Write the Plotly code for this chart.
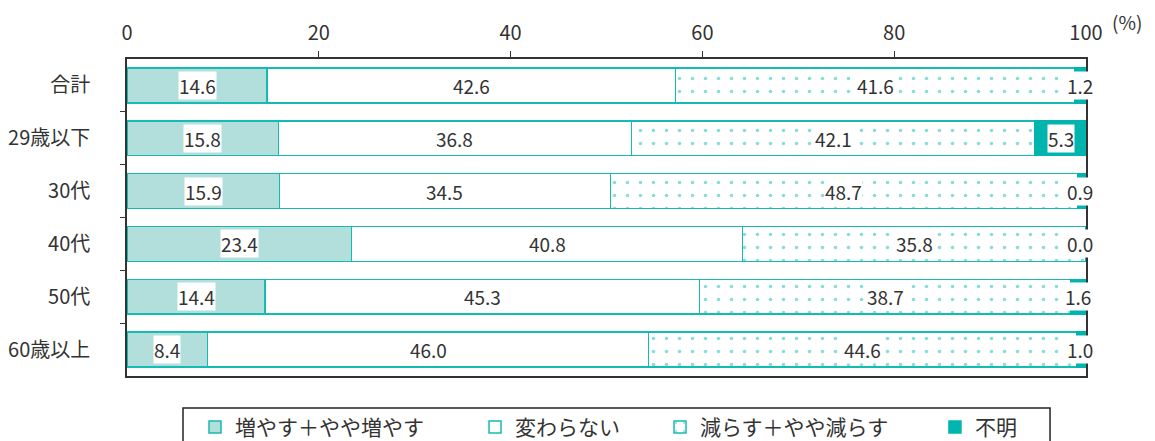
import plotly.graph_objects as go

categories = ["合計", "29歳以下", "30代", "40代", "50代", "60歳以上"]
series_names = ["増やす＋やや増やす", "変わらない", "減らす＋やや減らす", "不明"]
increase = [14.6, 15.8, 15.9, 23.4, 14.4, 8.4]
unchanged = [42.6, 36.8, 34.5, 40.8, 45.3, 46.0]
decrease = [41.6, 42.1, 48.7, 35.8, 38.7, 44.6]
unknown = [1.2, 5.3, 0.9, 0.0, 1.6, 1.0]
x_ticks = [0, 20, 40, 60, 80, 100]

TEAL = "#14bbb2"
LIGHT = "#b2dfdc"
SOLID = "#00b5ad"
TXT = "#333333"
FONT = "Noto Sans CJK JP"

series = [increase, unchanged, decrease, unknown]
ypos = list(range(len(categories)))

fig = go.Figure()
styles = [
    dict(color=LIGHT, line=dict(color=TEAL, width=1.5)),
    dict(color="white", line=dict(color=TEAL, width=1.5)),
    dict(color="white", line=dict(color=TEAL, width=1.5),
         pattern=dict(shape=".", fgcolor=TEAL, bgcolor="white", size=13, solidity=0.06)),
    dict(color=SOLID, line=dict(color=SOLID, width=1.5)),
]
legend_ids = ["legend", "legend2", "legend3", "legend4"]
for name, vals, st, lg in zip(series_names, series, styles, legend_ids):
    fig.add_trace(go.Bar(
        y=ypos, x=vals, name=name, orientation="h", width=0.66,
        marker=st, hoverinfo="skip", legend=lg,
    ))

# value labels with white background
annotations = []
for i in range(len(categories)):
    cum = 0.0
    for vals in series:
        v = vals[i]
        c = min(cum + v / 2, 99.4)
        annotations.append(dict(
            x=c, y=ypos[i], xref="x", yref="y", text=f"{v:.1f}", showarrow=False,
            font=dict(family=FONT, size=19, color=TXT), bgcolor="white", borderpad=0,
            xanchor="center", yanchor="middle",
        ))
        cum += v
annotations.append(dict(
    x=1.0, y=1.0, xref="paper", yref="paper", text="(%)", showarrow=False,
    xshift=41, yshift=38, font=dict(family=FONT, size=19, color=TXT),
    xanchor="center", yanchor="middle",
))

inner = [t for t in x_ticks if 0 < t < 100]
ybounds = [p + 0.5 for p in ypos[:-1]]

leg_common = dict(orientation="h", y=-0.097, yanchor="top", xanchor="left",
                  bgcolor="rgba(0,0,0,0)", borderwidth=0,
                  font=dict(family=FONT, size=21, color=TXT))
leg_x = [0.0709, 0.3629, 0.5558, 0.8425]

fig.update_layout(
    width=1155, height=441,
    margin=dict(l=127, r=69, t=59, b=65, autoexpand=False),
    barmode="stack",
    plot_bgcolor="white", paper_bgcolor="white",
    font=dict(family=FONT, size=19, color=TXT),
    showlegend=True,
    legend=dict(x=leg_x[0], **leg_common),
    legend2=dict(x=leg_x[1], **leg_common),
    legend3=dict(x=leg_x[2], **leg_common),
    legend4=dict(x=leg_x[3], **leg_common),
    shapes=[dict(type="rect", xref="paper", yref="paper", x0=0.0584, x1=0.9625,
                 y0=-0.101, y1=-0.4, line=dict(color="#222222", width=1.5),
                 fillcolor="rgba(0,0,0,0)")],
    xaxis=dict(
        side="top", range=[0, 100], tickvals=x_ticks, ticks="",
        showline=True, linecolor="#333333", linewidth=1.5, mirror=True,
        showgrid=False, zeroline=False, ticklabelstandoff=9,
        tickfont=dict(family=FONT, size=20, color=TXT),
        minor=dict(tickvals=inner, ticks="outside", ticklen=6, tickcolor="#333333", tickwidth=1.2),
    ),
    xaxis2=dict(
        overlaying="x", side="top", anchor="y", range=[0, 100], tickvals=inner,
        ticks="inside", ticklen=6, tickcolor="#333333", tickwidth=1.2,
        showticklabels=False, showgrid=False, zeroline=False, showline=False,
    ),
    yaxis=dict(
        range=[len(categories) - 0.5, -0.5], tickvals=ypos, ticktext=categories, ticks="",
        showline=True, linecolor="#333333", linewidth=1.5, mirror=True,
        showgrid=False, zeroline=False, ticklabelstandoff=31,
        tickfont=dict(family=FONT, size=20, color=TXT),
        minor=dict(tickvals=ybounds, ticks="outside", ticklen=5, tickcolor="#333333", tickwidth=1.2),
    ),
    yaxis2=dict(
        overlaying="y", anchor="x", side="left", range=[len(categories) - 0.5, -0.5],
        tickvals=ybounds, ticks="inside", ticklen=5, tickcolor="#333333", tickwidth=1.2,
        showticklabels=False, showgrid=False, zeroline=False, showline=False,
    ),
    annotations=annotations,
)

fig.write_html("out.html")
